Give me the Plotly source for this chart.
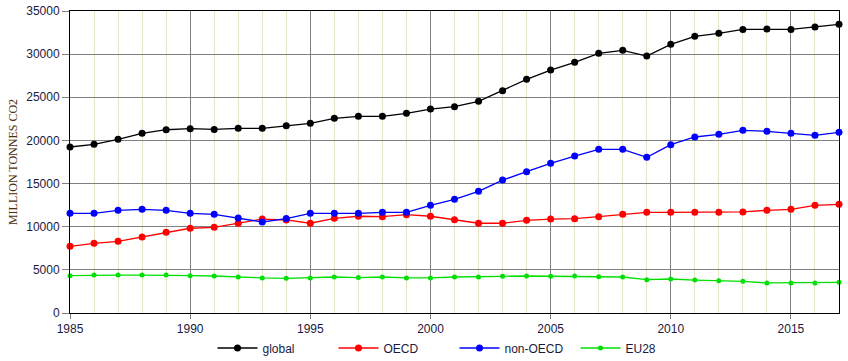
import plotly.graph_objects as go

years = list(range(1985, 2018))

global_em = [19240, 19550, 20130, 20820, 21240, 21360, 21280, 21400, 21400, 21710,
             21980, 22560, 22790, 22790, 23140, 23640, 23910, 24530, 25760, 27080,
             28160, 29050, 30090, 30440, 29780, 31140, 32070, 32410, 32870, 32910,
             32870, 33150, 33460]
oecd = [7730, 8070, 8310, 8810, 9350, 9820, 9930, 10400, 10890, 10780,
        10400, 10970, 11210, 11160, 11390, 11210, 10820, 10400, 10400, 10740,
        10890, 10930, 11160, 11440, 11670, 11670, 11670, 11670, 11710, 11900,
        12020, 12480, 12600]
non_oecd = [11550, 11550, 11900, 12010, 11900, 11550, 11440, 11010, 10550, 10950,
            11550, 11550, 11550, 11670, 11670, 12480, 13180, 14100, 15400, 16380,
            17350, 18190, 18970, 18970, 18040, 19510, 20400, 20710, 21170, 21060,
            20830, 20590, 20940]
eu28 = [4330, 4400, 4400, 4400, 4400, 4330, 4290, 4170, 4060, 4020,
        4060, 4170, 4100, 4170, 4060, 4060, 4170, 4170, 4250, 4290,
        4250, 4290, 4210, 4170, 3860, 3940, 3820, 3750, 3670, 3480,
        3480, 3480, 3560]

series = [
    ("global", global_em, "#000000", 7),
    ("OECD", oecd, "#ff0000", 7),
    ("non-OECD", non_oecd, "#0000ff", 7),
    ("EU28", eu28, "#00e000", 5),
]

fig = go.Figure()
for name, vals, col, ms in series:
    fig.add_trace(go.Scatter(
        x=years, y=vals, name=name, mode="lines+markers",
        line=dict(color=col, width=1.3),
        marker=dict(color=col, size=ms, symbol="circle"),
        cliponaxis=False,
    ))

tick_font = dict(family="Liberation Sans, Arial, sans-serif", size=12, color="#1a1a40")

fig.update_layout(
    width=848, height=361,
    margin=dict(l=70, r=9, t=11, b=48, autoexpand=False),
    paper_bgcolor="white", plot_bgcolor="white",
    showlegend=True,
    legend=dict(orientation="h", x=0.5, xanchor="center",
                yref="container", y=0.036, yanchor="middle",
                font=dict(family="Liberation Sans, Arial, sans-serif", size=12, color="#1a1a40"),
                entrywidth=66, entrywidthmode="pixels", itemwidth=40),
    xaxis=dict(
        range=[1985, 2017], dtick=5, tick0=1985, automargin=False,
        showgrid=True, gridcolor="#808080", gridwidth=1,
        minor=dict(dtick=1, tick0=1985, showgrid=True, gridcolor="#e8e4c8", gridwidth=1),
        showline=True, linecolor="black", linewidth=1, mirror=True,
        ticks="outside", ticklen=5, tickcolor="#808080",
        tickfont=tick_font, zeroline=False,
    ),
    yaxis=dict(
        range=[0, 35000], dtick=5000, tickformat="d", automargin=False,
        showgrid=True, gridcolor="#808080", gridwidth=1,
        showline=True, linecolor="black", linewidth=1, mirror=True,
        ticks="outside", ticklen=7, tickcolor="#808080",
        tickfont=tick_font, zeroline=False,
        title=dict(text="MILLION TONNES CO2", standoff=6,
                   font=dict(family="Liberation Serif, Times New Roman, serif", size=12, color="#4a3010")),
    ),
)

fig.write_html("out.html", config={"displayModeBar": False},
               post_script="document.body.style.margin='0px';")
